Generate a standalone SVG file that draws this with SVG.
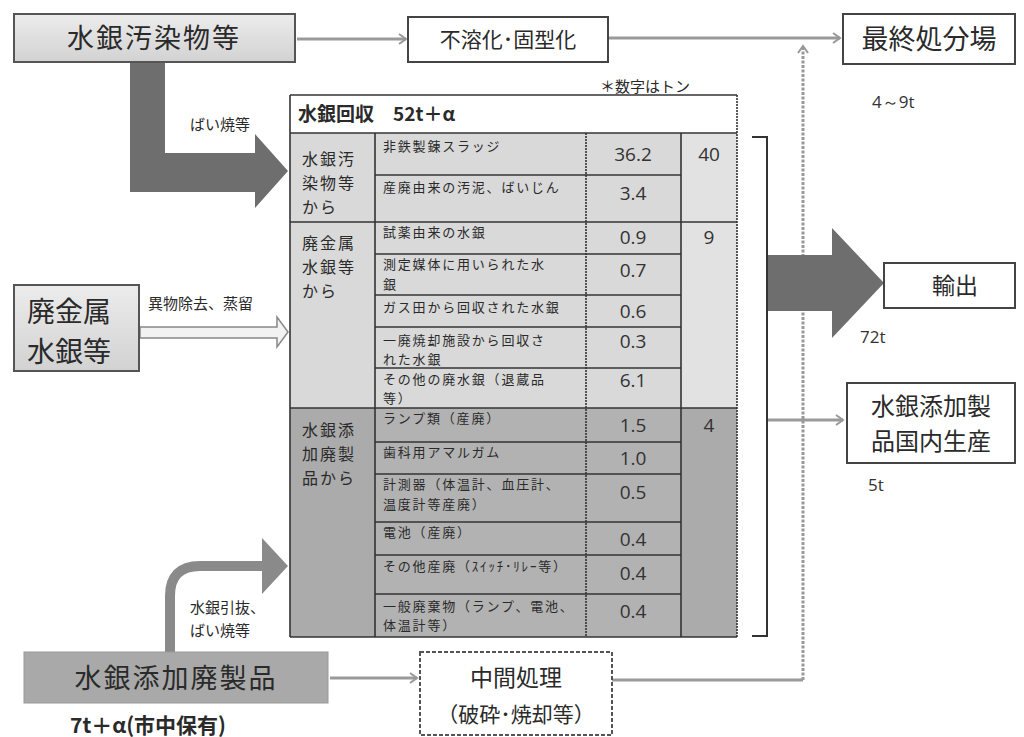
<svg xmlns="http://www.w3.org/2000/svg" width="1024" height="737" viewBox="0 0 1024 737">
<defs>
<linearGradient id="gBox" x1="0" y1="0" x2="0" y2="1"><stop offset="0" stop-color="#ececec"/><stop offset="1" stop-color="#d2d2d2"/></linearGradient>
<marker id="chev" markerWidth="10" markerHeight="12" refX="8" refY="6" orient="auto" markerUnits="userSpaceOnUse"><path d="M1,1 L8,6 L1,11" fill="none" stroke="#999" stroke-width="2"/></marker>
<style>
.jp{font-family:"Noto Sans CJK JP","Noto Sans",sans-serif;fill:#2a2a2a}
.big{font-size:27px}
.box{fill:#fff;stroke:#444;stroke-width:2}
.conn{stroke:#9a9a9a;stroke-width:3;fill:none}
.it{font-size:13px;letter-spacing:1.8px}
.cat{font-size:16px;letter-spacing:2px}
.val{font-size:19px;text-anchor:middle;font-family:"Open Sans","Liberation Sans",sans-serif;fill:#333}
.tl{stroke:#333;stroke-width:1.6}
.dl{stroke:#333;stroke-width:1.6;stroke-dasharray:2 1}
.lab{font-size:15px}
.num{font-family:"Open Sans","Liberation Sans",sans-serif;font-size:17px;fill:#333}
</style>
</defs>
<rect width="1024" height="737" fill="#fff"/>

<g id="connectors">
<line class="conn" x1="297" y1="39" x2="406" y2="39" marker-end="url(#chev)"/>
<line class="conn" x1="609" y1="38" x2="840" y2="38" marker-end="url(#chev)"/>
<line class="conn" x1="330" y1="678" x2="417" y2="678" marker-end="url(#chev)"/>
<polyline class="conn" points="612,680 803,680"/>
<line x1="803" y1="680" x2="803" y2="46" stroke="#999" stroke-width="3" stroke-dasharray="3 1.5" marker-end="url(#chev)"/>
<line class="conn" x1="768" y1="420" x2="843" y2="420" marker-end="url(#chev)"/>
<polygon points="130,62 165,62 165,153 255,153 255,134 288,171 255,208 255,192 130,192" fill="#6e6e6e"/>
<polygon points="767,255 832,255 832,228 884,283 832,338 832,311 767,311" fill="#6e6e6e"/>
<polygon points="140,327 277,327 277,317 288,332 277,347 277,338 140,338" fill="#f2f2f2" stroke="#888" stroke-width="1.5"/>
<path d="M170,652 L170,596 Q170,566 200,566 L262,566" fill="none" stroke="#8a8a8a" stroke-width="10"/>
<polygon points="262,538 288,566 262,594" fill="#8a8a8a"/>
<polyline points="752,137 767,137 767,636 752,636" fill="none" stroke="#333" stroke-width="2"/>
<text class="jp lab" x="190" y="130">ばい焼等</text>
<text class="jp lab" x="148" y="309">異物除去、蒸留</text>
<text class="jp lab" x="190" y="613">水銀引抜、</text>
<text class="jp lab" x="190" y="636">ばい焼等</text>
</g>

<g id="n-osen">
<rect x="14" y="14" width="281" height="48" fill="url(#gBox)" stroke="#555" stroke-width="2"/>
<text class="jp big" x="154" y="48" text-anchor="middle" letter-spacing="2">水銀汚染物等</text>
</g>

<g id="n-fuyouka">
<rect class="box" x="408" y="17" width="200" height="45"/>
<text class="jp" font-size="21" x="508" y="47" text-anchor="middle">不溶化･固型化</text>
</g>

<g id="n-saishu">
<rect class="box" x="843" y="14" width="172" height="50"/>
<text class="jp" font-size="27" x="929" y="49" text-anchor="middle">最終処分場</text>
<text class="num" x="872" y="108">4～9t</text>
</g>

<g id="n-haikinzoku">
<rect x="14" y="285" width="125" height="86" fill="url(#gBox)" stroke="#555" stroke-width="2"/>
<text class="jp" font-size="28" x="27" y="322">廃金属</text>
<text class="jp" font-size="28" x="27" y="362">水銀等</text>
</g>

<g id="n-tenka-hai">
<rect x="24" y="652" width="304" height="51" fill="#a9a9a9" stroke="#999" stroke-width="1"/>
<text class="jp" font-size="27" x="176" y="688" text-anchor="middle" letter-spacing="2">水銀添加廃製品</text>
<text class="jp" font-size="21" font-weight="bold" x="70" y="733">7t＋α(市中保有)</text>
</g>

<g id="n-chukan">
<rect x="420" y="652" width="192" height="83" fill="#fff" stroke="#555" stroke-width="2" stroke-dasharray="4 2"/>
<text class="jp" font-size="23" x="516" y="686" text-anchor="middle">中間処理</text>
<text class="jp" font-size="21" x="516" y="722" text-anchor="middle">（破砕･焼却等）</text>
</g>

<g id="n-yushutsu">
<rect class="box" x="884" y="263" width="131" height="45"/>
<text class="jp" font-size="23" x="955" y="294" text-anchor="middle">輸出</text>
<text class="num" x="860" y="343">72t</text>
</g>

<g id="n-kokunai">
<rect class="box" x="847" y="383" width="168" height="80"/>
<text class="jp" font-size="24" x="931" y="415" text-anchor="middle">水銀添加製</text>
<text class="jp" font-size="24" x="931" y="450" text-anchor="middle">品国内生産</text>
<text class="num" x="868" y="491">5t</text>
</g>

<g id="note">
<text class="jp" font-size="15" x="600" y="92">＊数字はトン</text>
</g>

<g id="n-table">
<rect x="290" y="95" width="447" height="38" fill="#fff"/>
<rect x="290" y="133" width="447" height="275" fill="#d9d9d9"/>
<rect x="681" y="133" width="56" height="275" fill="#e2e2e2"/>
<rect x="290" y="408" width="447" height="229" fill="#ababab"/>
<rect x="375" y="408" width="306" height="229" fill="#b2b2b2"/>
<text class="jp" font-size="19" font-weight="bold" x="298" y="121">水銀回収　52t＋α</text>
<line class="tl" x1="290" y1="95" x2="737" y2="95"/>
<line class="tl" x1="290" y1="133" x2="737" y2="133"/>
<line class="tl" x1="375" y1="175" x2="681" y2="175"/>
<line class="tl" x1="290" y1="222" x2="737" y2="222"/>
<line class="tl" x1="375" y1="254" x2="681" y2="254"/>
<line class="tl" x1="375" y1="295" x2="681" y2="295"/>
<line class="tl" x1="375" y1="327" x2="681" y2="327"/>
<line class="tl" x1="375" y1="368" x2="681" y2="368"/>
<line class="tl" x1="290" y1="408" x2="737" y2="408"/>
<line class="tl" x1="375" y1="442" x2="681" y2="442"/>
<line class="tl" x1="375" y1="474" x2="681" y2="474"/>
<line class="tl" x1="375" y1="522" x2="681" y2="522"/>
<line class="tl" x1="375" y1="555" x2="681" y2="555"/>
<line class="tl" x1="375" y1="594" x2="681" y2="594"/>
<line class="tl" x1="290" y1="637" x2="737" y2="637"/>
<line class="tl" x1="290" y1="95" x2="290" y2="637"/>
<line class="tl" x1="375" y1="133" x2="375" y2="637"/>
<line class="dl" x1="586" y1="133" x2="586" y2="637"/>
<line class="tl" x1="681" y1="133" x2="681" y2="637"/>
<line class="dl" x1="737" y1="95" x2="737" y2="637"/>
<text class="jp cat" x="302" y="165">水銀汚</text>
<text class="jp cat" x="302" y="189">染物等</text>
<text class="jp cat" x="302" y="213">から</text>
<text class="jp cat" x="302" y="249">廃金属</text>
<text class="jp cat" x="302" y="273">水銀等</text>
<text class="jp cat" x="302" y="297">から</text>
<text class="jp cat" x="302" y="436">水銀添</text>
<text class="jp cat" x="302" y="460">加廃製</text>
<text class="jp cat" x="302" y="484">品から</text>
<text class="jp it" x="383" y="151">非鉄製錬スラッジ</text>
<text class="jp it" x="383" y="192">産廃由来の汚泥、ばいじん</text>
<text class="jp it" x="383" y="237">試薬由来の水銀</text>
<text class="jp it" x="383" y="269">測定媒体に用いられた水</text>
<text class="jp it" x="383" y="289">銀</text>
<text class="jp it" x="383" y="312">ガス田から回収された水銀</text>
<text class="jp it" x="383" y="345">一廃焼却施設から回収さ</text>
<text class="jp it" x="383" y="364">れた水銀</text>
<text class="jp it" x="383" y="384">その他の廃水銀（退蔵品</text>
<text class="jp it" x="383" y="403">等）</text>
<text class="jp it" x="383" y="423">ランプ類（産廃）</text>
<text class="jp it" x="383" y="457">歯科用アマルガム</text>
<text class="jp it" x="383" y="489">計測器（体温計、血圧計、</text>
<text class="jp it" x="383" y="509">温度計等産廃）</text>
<text class="jp it" x="383" y="537">電池（産廃）</text>
<text class="jp it" x="383" y="571">その他産廃（ｽｲｯﾁ･ﾘﾚｰ等）</text>
<text class="jp it" x="383" y="611">一般廃棄物（ランプ、電池、</text>
<text class="jp it" x="383" y="630">体温計等）</text>
<text class="val" x="633" y="161">36.2</text>
<text class="val" x="633" y="200">3.4</text>
<text class="val" x="633" y="244">0.9</text>
<text class="val" x="633" y="277">0.7</text>
<text class="val" x="633" y="318">0.6</text>
<text class="val" x="633" y="348">0.3</text>
<text class="val" x="633" y="387">6.1</text>
<text class="val" x="633" y="432">1.5</text>
<text class="val" x="633" y="465">1.0</text>
<text class="val" x="633" y="499">0.5</text>
<text class="val" x="633" y="546">0.4</text>
<text class="val" x="633" y="580">0.4</text>
<text class="val" x="633" y="618">0.4</text>
<text class="val" x="709" y="161">40</text>
<text class="val" x="709" y="244">9</text>
<text class="val" x="709" y="432">4</text>
</g>
</svg>
